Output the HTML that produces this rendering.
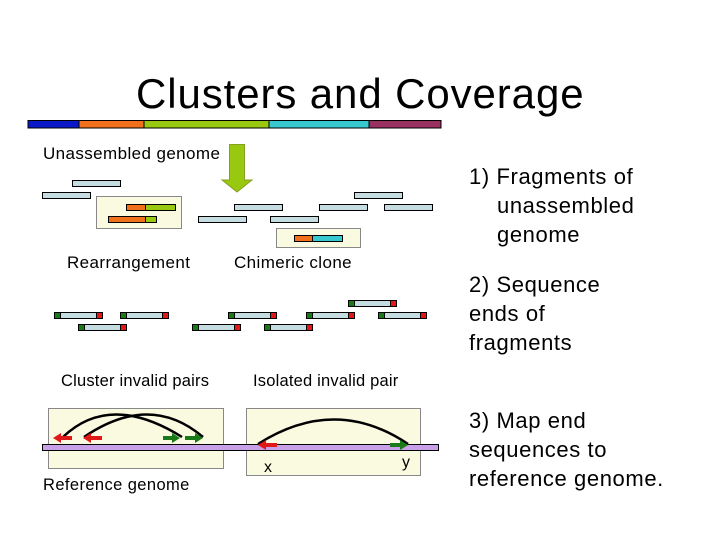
<!DOCTYPE html>
<html><head><meta charset="utf-8"><style>body{margin:0;background:#fff}svg{display:block}text{font-family:"Liberation Sans",Arial,sans-serif;fill:#000}</style></head><body>
<svg width="720" height="540" viewBox="0 0 720 540" xmlns="http://www.w3.org/2000/svg">
<defs>
<g id="p" stroke="#000" stroke-width="1"><rect x="0.5" y="0.5" width="48" height="6" fill="#c5dde0"/><rect x="0.5" y="0.5" width="6" height="6" fill="#1a7a1a"/><rect x="42.5" y="0.5" width="6" height="6" fill="#e01818"/></g>
</defs>
<text x="136" y="108" font-size="42" letter-spacing="0.9">Clusters and Coverage</text>
<g stroke="#000" stroke-width="1">
<rect x="28" y="120.5" width="51" height="7.5" fill="#0a18c8"/>
<rect x="79" y="120.5" width="65" height="7.5" fill="#f0701c"/>
<rect x="144" y="120.5" width="125" height="7.5" fill="#98c810"/>
<rect x="269" y="120.5" width="100" height="7.5" fill="#38c8d0"/>
<rect x="369" y="120.5" width="72" height="7.5" fill="#983060"/>
</g>
<text x="43" y="159" font-size="17" letter-spacing="0.4">Unassembled genome</text>
<path d="M229.5,144.5 H244.5 V180 H252 L237,192 L222,180 H229.5 Z" fill="#98c810" stroke="#88a020" stroke-width="1"/>
<g stroke="#888" fill="#fafae0">
<rect x="96.5" y="196.5" width="85" height="32"/>
<rect x="276.5" y="228.5" width="84" height="19"/>
</g>
<g stroke="#000" stroke-width="1" fill="#c5dde0">
<rect x="72.5" y="180.5" width="48" height="6"/>
<rect x="42.5" y="192.5" width="48" height="6"/>
<rect x="234.5" y="204.5" width="48" height="6"/>
<rect x="319.5" y="204.5" width="48" height="6"/>
<rect x="384.5" y="204.5" width="48" height="6"/>
<rect x="354.5" y="192.5" width="48" height="6"/>
<rect x="198.5" y="216.5" width="48" height="6"/>
<rect x="270.5" y="216.5" width="48" height="6"/>
<rect x="126.5" y="204.5" width="19" height="6" fill="#f0701c"/>
<rect x="145.5" y="204.5" width="30" height="6" fill="#98c810"/>
<rect x="108.5" y="216.5" width="37" height="6" fill="#f0701c"/>
<rect x="145.5" y="216.5" width="11" height="6" fill="#98c810"/>
<rect x="294.5" y="235.5" width="18" height="6" fill="#f0701c"/>
<rect x="312.5" y="235.5" width="30" height="6" fill="#38c8d0"/>
</g>
<text x="67" y="268" font-size="17" letter-spacing="0.4">Rearrangement</text>
<text x="234" y="268" font-size="17" letter-spacing="0.4">Chimeric clone</text>
<use href="#p" x="348" y="300"/>
<use href="#p" x="54" y="312"/>
<use href="#p" x="120" y="312"/>
<use href="#p" x="228" y="312"/>
<use href="#p" x="306" y="312"/>
<use href="#p" x="378" y="312"/>
<use href="#p" x="78" y="324"/>
<use href="#p" x="192" y="324"/>
<use href="#p" x="264" y="324"/>
<text x="61" y="386" font-size="16.5" letter-spacing="0.2">Cluster invalid pairs</text>
<text x="253" y="386" font-size="16.5" letter-spacing="0.2">Isolated invalid pair</text>
<g stroke="#888" fill="#fafae0">
<rect x="48.5" y="408.5" width="175" height="60"/>
<rect x="246.5" y="408.5" width="174" height="67"/>
</g>
<rect x="42.5" y="444.5" width="396" height="6" fill="#c8a0e8" stroke="#000"/>
<g fill="none" stroke="#000" stroke-width="2.5">
<path d="M63,437 Q110,392 182,437"/>
<path d="M84,437 Q150,392 203,437"/>
<path d="M258,444 Q335,395 408,444"/>
</g>
<g stroke-width="4" stroke-linecap="butt">
<line x1="59" y1="438" x2="72" y2="438" stroke="#e01818"/><path d="M53,438 L61,433 L61,443 Z" fill="#e01818"/>
<line x1="89" y1="438" x2="102" y2="438" stroke="#e01818"/><path d="M83,438 L91,433 L91,443 Z" fill="#e01818"/>
<line x1="163" y1="438" x2="174" y2="438" stroke="#1a7a1a"/><path d="M180,438 L172,433 L172,443 Z" fill="#1a7a1a"/>
<line x1="185" y1="438" x2="197" y2="438" stroke="#1a7a1a"/><path d="M203,438 L195,433 L195,443 Z" fill="#1a7a1a"/>
<line x1="264" y1="445" x2="277" y2="445" stroke="#e01818"/><path d="M258,445 L266,440 L266,450 Z" fill="#e01818"/>
<line x1="390" y1="445" x2="402" y2="445" stroke="#1a7a1a"/><path d="M408,445 L400,440 L400,450 Z" fill="#1a7a1a"/>
</g>
<text x="264" y="472" font-size="16">x</text>
<text x="402" y="467" font-size="16">y</text>
<text x="43" y="490" font-size="16.5" letter-spacing="0.4">Reference genome</text>
<g font-size="22" letter-spacing="0.6">
<text x="469" y="184">1) Fragments of</text>
<text x="497" y="213">unassembled</text>
<text x="497" y="242">genome</text>
<text x="469" y="292">2) Sequence</text>
<text x="469" y="321">ends of</text>
<text x="469" y="350">fragments</text>
<text x="469" y="428">3) Map end</text>
<text x="469" y="457">sequences to</text>
<text x="469" y="486">reference genome.</text>
</g>
</svg>
</body></html>
